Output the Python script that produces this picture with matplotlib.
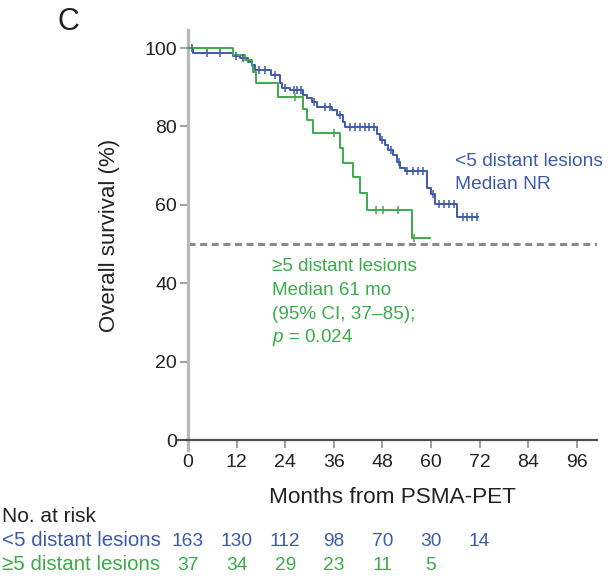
import numpy as np
import matplotlib
matplotlib.use('Agg')
import matplotlib.pyplot as plt
import matplotlib.transforms as mtransforms

plt.rcParams['font.family'] = ['Liberation Sans', 'DejaVu Sans']
plt.rcParams['mathtext.fontset'] = 'custom'
plt.rcParams['mathtext.it'] = 'Liberation Sans:italic'
plt.rcParams['mathtext.rm'] = 'Liberation Sans'

# ---------------------------------------------
#               DATA
# ---------------------------------------------

# <5 distant lesions: KM step drops (month, survival %)
blue_t = [0, 1.3, 11.2, 12.8, 14.9, 15.7, 16.5, 20.6, 22.7, 23.1, 25.2, 28.5, 29.3,
          30.5, 31.8, 35.5, 36.7, 38.3, 38.8, 46.6, 47.4, 48.6, 49.5, 50.7, 51.5,
          52.3, 53.6, 59.1, 59.9, 61.0, 66.5]
blue_s = [100, 98.8, 98.0, 97.4, 96.5, 95.7, 94.4, 93.1, 91.0, 89.7, 89.3, 88.0, 87.2,
          86.3, 85.0, 84.2, 82.9, 81.2, 79.9, 78.2, 76.5, 75.3, 74.0, 72.7, 71.0,
          69.3, 68.6, 64.2, 62.7, 60.3, 56.9]
blue_end = 71.6
blue_cens = [1.0, 4.6, 8.0, 11.8, 13.6, 17.5, 19.0, 21.5, 24.0, 26.2, 27.0, 28.0,
             31.0, 33.8, 35.0, 37.5, 40.0, 41.2, 42.4, 43.6, 44.8, 46.0, 48.0, 50.2,
             52.0, 54.2, 55.5, 56.8, 58.0, 60.4, 62.0, 63.2, 64.4, 65.6, 67.8,
             69.0, 70.2, 71.4]

# >=5 distant lesions
green_t = [0, 11.2, 14.1, 15.7, 16.1, 16.9, 22.3, 28.5, 29.5, 30.9, 37.5, 38.3,
           40.8, 42.5, 44.1, 55.2]
green_s = [100, 98.2, 96.9, 95.5, 94.0, 91.0, 87.6, 84.4, 81.6, 78.4, 74.4, 70.6,
           67.2, 62.9, 58.7, 51.5]
green_end = 59.8
green_cens = [26.4, 36.0, 46.5, 48.2, 51.9, 55.8]

months = [0, 12, 24, 36, 48, 60, 72, 84, 96]
risk_blue = [163, 130, 112, 98, 70, 30, 14]
risk_green = [37, 34, 29, 23, 11, 5]

BLUE = '#3d5aaa'
GREEN = '#3cab4a'

# ---------------------------------------------
#               CREATE GRAPH
# ---------------------------------------------

fig = plt.figure(figsize=(6.08, 5.81), dpi=100)
ax = fig.add_axes([0.2926, 0.2258, 0.6893, 0.7225])


def km(t, s, end, cens, color):
    tt = list(t) + [end]
    ss = list(s) + [s[-1]]
    ax.step(tt, ss, where='post', color=color, lw=1.4, zorder=3)
    idx = np.searchsorted(t, cens, side='right') - 1
    cy = np.array(s)[idx]
    ax.plot(cens, cy, ls='none', marker='|', ms=6, mew=1.1, color=color, zorder=4)


km(blue_t, blue_s, blue_end, blue_cens, BLUE)
km(green_t, green_s, green_end, green_cens, GREEN)

ax.plot([0, 101], [50, 50], color='#8a8a8a', lw=2.2, dashes=(2.3, 1.5), zorder=2)

ax.set_xlim(-2.5, 101)
ax.set_ylim(-2.5, 104.6)
ax.spines['left'].set_position(('data', 0))
ax.spines['bottom'].set_position(('data', 0))
ax.spines['top'].set_visible(False)
ax.spines['right'].set_visible(False)
ax.spines['left'].set_color('#b8b8b8')
ax.spines['left'].set_linewidth(2.3)
ax.spines['bottom'].set_color('#505050')
ax.spines['bottom'].set_linewidth(1.6)

ax.set_xticks(months)
ax.set_yticks([0, 20, 40, 60, 80, 100])
ax.tick_params(axis='both', direction='out', length=6, width=1.2, color='#909090',
               labelsize=14, labelcolor='#222222')
ax.tick_params(axis='y', pad=2)
ax.tick_params(axis='x', pad=4)

ax.set_ylabel('Overall survival (%)', fontsize=16, color='#222222')
ax.yaxis.set_label_coords(-0.138, 0.51)
ax.set_xlabel('Months from PSMA-PET', fontsize=16.2, color='#222222')
ax.xaxis.set_label_coords(0.513, -0.088)

# curve annotations
ax.text(66, 71.0, '<5 distant lesions', color=BLUE, fontsize=13.8, va='center')
ax.text(66, 65.1, 'Median NR', color=BLUE, fontsize=13.8, va='center')
green_lines = ['≥5 distant lesions', 'Median 61 mo', '(95% CI, 37–85);',
               r'$\mathit{p}$ = 0.024']
for i, line in enumerate(green_lines):
    ax.text(20.7, 44.2 - 6.05 * i, line, color=GREEN, fontsize=13.6, va='center')

fig.text(0.113, 0.962, 'C', fontsize=22, ha='center', va='center', color='#222222')

# number at risk table
trans = mtransforms.blended_transform_factory(ax.transData, fig.transFigure)
fig.text(0.004, 1 - 517 / 581, 'No. at risk', fontsize=15, va='center', color='#222222')
fig.text(0.004, 1 - 541 / 581, '<5 distant lesions', fontsize=14.8, va='center', color=BLUE)
fig.text(0.004, 1 - 565 / 581, '≥5 distant lesions', fontsize=14.8, va='center', color=GREEN)
for m, n in zip(months, risk_blue):
    ax.text(m, 1 - 541 / 581, str(n), transform=trans, ha='center', va='center',
            fontsize=13.8, color=BLUE, clip_on=False)
for m, n in zip(months, risk_green):
    ax.text(m, 1 - 565 / 581, str(n), transform=trans, ha='center', va='center',
            fontsize=13.8, color=GREEN, clip_on=False)

fig.savefig('out.png', dpi=100)
